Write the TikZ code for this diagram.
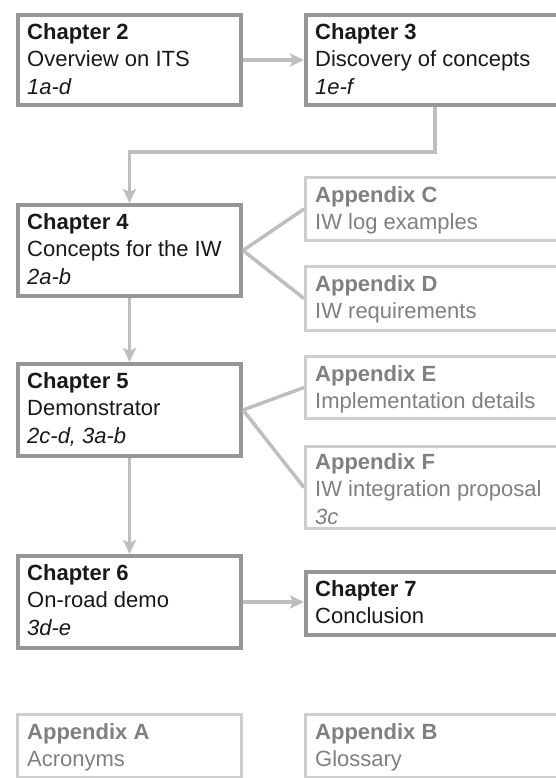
\documentclass[tikz,border=0pt]{standalone}
\usepackage{fontspec}
\setmainfont{Liberation Sans}
\usetikzlibrary{arrows.meta}
\definecolor{chapline}{RGB}{150,150,150}
\definecolor{appline}{RGB}{206,206,206}
\definecolor{connline}{RGB}{190,190,190}
\definecolor{chaptext}{RGB}{25,25,25}
\definecolor{apptext}{RGB}{128,128,128}
\begin{document}
\begin{tikzpicture}[x=1pt,y=-1pt,
  chapbox/.style={draw=chapline,line width=4pt,fill=white,anchor=north west,inner sep=0pt},
  appbox/.style={draw=appline,line width=3pt,fill=white,anchor=north west,inner sep=0pt},
  chaptxt/.style={anchor=north west,inner sep=0pt,align=left,text=chaptext,font=\fontsize{22}{27.5}\selectfont},
  apptxt/.style={chaptxt,text=apptext},
  conn/.style={draw=connline,line width=3.5pt},
  arr/.style={conn,-{Stealth[length=14pt,width=13pt,inset=3pt]}}
]
\useasboundingbox (0,0) rectangle (556,778);
\clip (0,0) rectangle (556,778);
% boxes
\node[chapbox,minimum width=223pt,minimum height=90pt] (ch2) at (16,13) {};
\node[chapbox,minimum width=258pt,minimum height=90pt] (ch3) at (304,13) {};
\node[chapbox,minimum width=223pt,minimum height=91pt] (ch4) at (16,203) {};
\node[appbox,minimum width=259pt,minimum height=63pt] (apC) at (304,176) {};
\node[appbox,minimum width=259pt,minimum height=64pt] (apD) at (304,265) {};
\node[chapbox,minimum width=223pt,minimum height=92pt] (ch5) at (16,362) {};
\node[appbox,minimum width=259pt,minimum height=62pt] (apE) at (304,355) {};
\node[appbox,minimum width=259pt,minimum height=82pt] (apF) at (304,445) {};
\node[chapbox,minimum width=223pt,minimum height=92pt] (ch6) at (16,554) {};
\node[chapbox,minimum width=258pt,minimum height=63pt] (ch7) at (304,570) {};
\node[appbox,minimum width=224pt,minimum height=63pt] (apA) at (16,713) {};
\node[appbox,minimum width=259pt,minimum height=63pt] (apB) at (304,713) {};
% texts
\node[chaptxt] (ch2t) at ([xshift=11pt,yshift=-10pt]ch2.north west) {\textbf{Chapter 2}\\Overview on ITS\\\textit{1a-d}};
\node[chaptxt] (ch3t) at ([xshift=11pt,yshift=-10pt]ch3.north west) {\textbf{Chapter 3}\\Discovery of concepts\\\textit{1e-f}};
\node[chaptxt] (ch4t) at ([xshift=11pt,yshift=-10pt]ch4.north west) {\textbf{Chapter 4}\\Concepts for the IW\\\textit{2a-b}};
\node[apptxt] (apCt) at ([xshift=11pt,yshift=-10pt]apC.north west) {\textbf{Appendix C}\\IW log examples};
\node[apptxt] (apDt) at ([xshift=11pt,yshift=-10pt]apD.north west) {\textbf{Appendix D}\\IW requirements};
\node[chaptxt] (ch5t) at ([xshift=11pt,yshift=-10pt]ch5.north west) {\textbf{Chapter 5}\\Demonstrator\\\textit{2c-d, 3a-b}};
\node[apptxt] (apEt) at ([xshift=11pt,yshift=-10pt]apE.north west) {\textbf{Appendix E}\\Implementation details};
\node[apptxt] (apFt) at ([xshift=11pt,yshift=-8pt]apF.north west) {\textbf{Appendix F}\\IW integration proposal\\\textit{3c}};
\node[chaptxt] (ch6t) at ([xshift=11pt,yshift=-10pt]ch6.north west) {\textbf{Chapter 6}\\On-road demo\\\textit{3d-e}};
\node[chaptxt] (ch7t) at ([xshift=11pt,yshift=-10pt]ch7.north west) {\textbf{Chapter 7}\\Conclusion};
\node[apptxt] (apAt) at ([xshift=11pt,yshift=-10pt]apA.north west) {\textbf{Appendix A}\\Acronyms};
\node[apptxt] (apBt) at ([xshift=11pt,yshift=-10pt]apB.north west) {\textbf{Appendix B}\\Glossary};
% connectors
\draw[arr] (ch2.east) -- (ch3.west);
\draw[arr] (ch3.south) -- ++(0,45) -| (ch4.north);
\draw[arr] (ch4.south) -- (ch5.north);
\draw[arr] (ch5.south) -- (ch6.north);
\draw[arr] (ch6.east) -- (ch6.east -| ch7.west);
\draw[conn] (ch4.east) -- (apC.west);
\draw[conn] (ch4.east) -- (apD.west);
\draw[conn] (ch5.east) -- (apE.west);
\draw[conn] (ch5.east) -- (apF.west);
\end{tikzpicture}
\end{document}
